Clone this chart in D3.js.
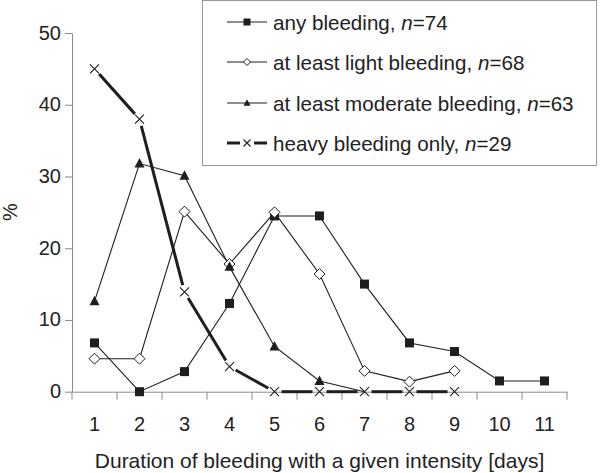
<!DOCTYPE html>
<html><head><meta charset="utf-8">
<script src="https://cdn.jsdelivr.net/npm/d3@7"></script>
<style>body{margin:0;background:#fff}svg{display:block}text{font-family:"Liberation Sans",Arial,sans-serif;fill:#222}</style>
</head><body><svg id="c" width="600" height="473"></svg>
<script>
const days = [1,2,3,4,5,6,7,8,9,10,11];
const yTicks = [0,10,20,30,40,50];
const anyBleeding = [6.8,0,2.8,12.3,24.5,24.5,15.0,6.8,5.6,1.5,1.5];
const lightBleeding = [4.6,4.6,25.1,17.8,25.0,16.4,2.9,1.4,2.9];
const moderateBleeding = [12.6,31.8,30.1,17.4,6.3,1.5,0];
const heavyBleeding = [45.0,38.0,13.9,3.5,0,0,0,0,0];
const seriesNames = ["any bleeding, ","at least light bleeding, ","at least moderate bleeding, ","heavy bleeding only, "];
const seriesN = ["74","68","63","29"];
const xTitle = "Duration of bleeding with a given intensity [days]";
const yTitle = "%";

const svg = d3.select("#c");
const axisCol = "#8a8a8a", ink = "#1e1e1e";
const FF = "Liberation Sans, Arial, sans-serif";
const x = d3.scaleBand().domain(days).range([72,567]).padding(0);
const y = d3.scaleLinear().domain([0,50]).range([391.7,33]);
const cx = d => x(d)+x.bandwidth()/2;

const gy = svg.append("g").attr("transform","translate(72,0)")
  .call(d3.axisLeft(y).tickValues(yTicks).tickSize(7).tickPadding(4).tickSizeOuter(0));
gy.select(".domain").attr("stroke",axisCol);
gy.selectAll(".tick line").attr("stroke",axisCol);
gy.selectAll(".tick text").attr("font-size",20).attr("fill",ink).attr("font-family",FF).attr("dy","0.3em");

const gx = svg.append("g").attr("transform","translate(0,391.7)")
  .call(d3.axisBottom(x).tickSize(0).tickPadding(0).tickSizeOuter(0));
gx.select(".domain").attr("stroke",axisCol);
gx.selectAll(".tick text").attr("font-size",20).attr("fill",ink).attr("font-family",FF).attr("dy",null).attr("y",39.5);
const bounds = days.map(d=>x(d)).concat([x.range()[1]]);
gx.selectAll("line.bt").data(bounds).enter().append("line")
  .attr("x1",d=>d).attr("x2",d=>d).attr("y1",0).attr("y2",8).attr("stroke",axisCol);

svg.append("text").attr("x",319.5).attr("y",468).attr("text-anchor","middle").attr("font-size",21).text(xTitle);
svg.append("text").attr("transform","translate(17,212) rotate(-90)").attr("text-anchor","middle").attr("font-size",20).text(yTitle);

const line = d3.line().x((d,i)=>cx(days[i])).y(d=>y(d));
function pts(arr){return arr.map((v,i)=>[cx(days[i]),y(v)]);}

[anyBleeding,lightBleeding,moderateBleeding].forEach(arr=>{
  svg.append("path").attr("d",line(arr)).attr("fill","none").attr("stroke",ink).attr("stroke-width",1.1);
});
const hp = pts(heavyBleeding);
for(let i=0;i<hp.length-1;i++){
  const [x1,y1]=hp[i],[x2,y2]=hp[i+1];
  const L=Math.hypot(x2-x1,y2-y1), g=7;
  const ux=(x2-x1)/L, uy=(y2-y1)/L;
  svg.append("line").attr("x1",x1+ux*g).attr("y1",y1+uy*g).attr("x2",x2-ux*g).attr("y2",y2-uy*g)
    .attr("stroke",ink).attr("stroke-width",3);
}

function square(g,px,py,s){g.append("rect").attr("x",px-s/2).attr("y",py-s/2).attr("width",s).attr("height",s).attr("fill",ink);}
function diamond(g,px,py,s){g.append("path").attr("d",`M${px},${py-s/2}L${px+s/2},${py}L${px},${py+s/2}L${px-s/2},${py}Z`).attr("fill","#fff").attr("stroke",ink).attr("stroke-width",1);}
function tri(g,px,py,s){g.append("path").attr("d",`M${px},${py-s*0.55}L${px+s/2},${py+s*0.4}L${px-s/2},${py+s*0.4}Z`).attr("fill",ink);}
function cross(g,px,py,s){const h=s/2;g.append("path").attr("d",`M${px-h},${py-h}L${px+h},${py+h}M${px-h},${py+h}L${px+h},${py-h}`).attr("stroke",ink).attr("stroke-width",1.1).attr("fill","none");}

const mk = svg.append("g");
pts(anyBleeding).forEach(p=>square(mk,p[0],p[1],9));
pts(lightBleeding).forEach(p=>diamond(mk,p[0],p[1],11));
pts(moderateBleeding).forEach(p=>{ if(p[1]<y(0)-1) tri(mk,p[0],p[1],10); });
pts(heavyBleeding).forEach(p=>cross(mk,p[0],p[1],9));

const lg = svg.append("g");
lg.append("rect").attr("x",202.5).attr("y",0.5).attr("width",394).attr("height",165).attr("fill","#fff").attr("stroke","#999").attr("stroke-width",1);
const rowY = [22,62,103,143];
seriesNames.forEach((nm,i)=>{
  const yy=rowY[i];
  if(i<3){
    lg.append("line").attr("x1",227).attr("x2",267).attr("y1",yy).attr("y2",yy).attr("stroke",ink).attr("stroke-width",1.1);
    if(i===0) square(lg,247,yy,7);
    if(i===1) diamond(lg,247,yy,7);
    if(i===2) tri(lg,247,yy,7);
  } else {
    lg.append("line").attr("x1",227).attr("x2",240).attr("y1",yy).attr("y2",yy).attr("stroke",ink).attr("stroke-width",3);
    lg.append("line").attr("x1",254).attr("x2",267).attr("y1",yy).attr("y2",yy).attr("stroke",ink).attr("stroke-width",3);
    cross(lg,247,yy,7);
  }
  const t=lg.append("text").attr("x",273).attr("y",yy+7.5).attr("font-size",20.6);
  t.append("tspan").text(nm);
  t.append("tspan").attr("font-style","italic").text("n");
  t.append("tspan").text("="+seriesN[i]);
});
</script></body></html>
